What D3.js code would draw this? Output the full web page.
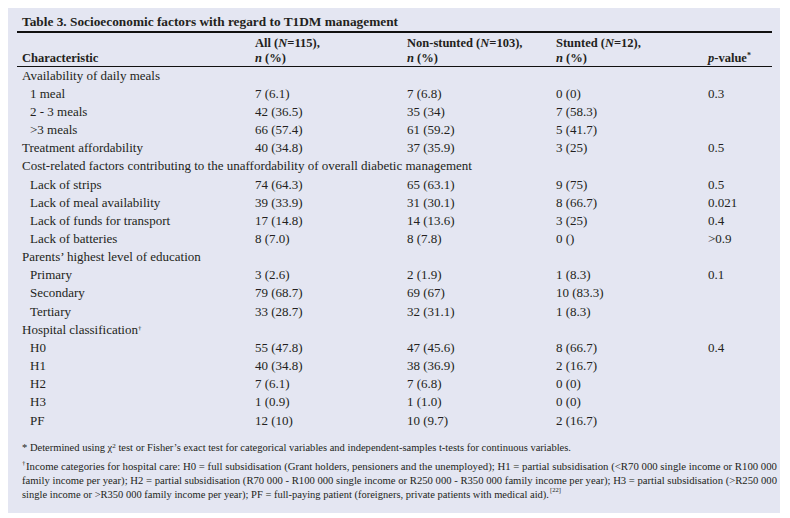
<!DOCTYPE html>
<html>
<head>
<meta charset="utf-8">
<script src="https://cdn.jsdelivr.net/npm/d3@7"></script>
<style>
  body { margin: 0; background: #fff; }
  text { font-family: "Liberation Serif", "DejaVu Serif", serif; fill: #231f20; }
</style>
</head>
<body>
<div id="table-chart"></div>
<script>
const dimensions = {
  width: 790,
  height: 518,
};

const title = "Table 3. Socioeconomic factors with regard to T1DM management";

// row labels; level 0 = group heading, level 1 = item
const rowLabels = [
  "Availability of daily meals", "1 meal", "2 - 3 meals", ">3 meals",
  "Treatment affordability",
  "Cost-related factors contributing to the unaffordability of overall diabetic management",
  "Lack of strips", "Lack of meal availability", "Lack of funds for transport", "Lack of batteries",
  "Parents\u2019 highest level of education", "Primary", "Secondary", "Tertiary",
  "Hospital classification", "H0", "H1", "H2", "H3", "PF",
];
const rowLevel = [0, 1, 1, 1, 0, 0, 1, 1, 1, 1, 0, 1, 1, 1, 0, 1, 1, 1, 1, 1];

const allValues = [
  "", "7 (6.1)", "42 (36.5)", "66 (57.4)", "40 (34.8)",
  "", "74 (64.3)", "39 (33.9)", "17 (14.8)", "8 (7.0)",
  "", "3 (2.6)", "79 (68.7)", "33 (28.7)",
  "", "55 (47.8)", "40 (34.8)", "7 (6.1)", "1 (0.9)", "12 (10)",
];
const nonStuntedValues = [
  "", "7 (6.8)", "35 (34)", "61 (59.2)", "37 (35.9)",
  "", "65 (63.1)", "31 (30.1)", "14 (13.6)", "8 (7.8)",
  "", "2 (1.9)", "69 (67)", "32 (31.1)",
  "", "47 (45.6)", "38 (36.9)", "7 (6.8)", "1 (1.0)", "10 (9.7)",
];
const stuntedValues = [
  "", "0 (0)", "7 (58.3)", "5 (41.7)", "3 (25)",
  "", "9 (75)", "8 (66.7)", "3 (25)", "0 ()",
  "", "1 (8.3)", "10 (83.3)", "1 (8.3)",
  "", "8 (66.7)", "2 (16.7)", "0 (0)", "0 (0)", "2 (16.7)",
];
const pValues = [
  "", "0.3", "", "", "0.5",
  "", "0.5", "0.021", "0.4", ">0.9",
  "", "0.1", "", "",
  "", "0.4", "", "", "", "",
];

const columns = ["label", "all", "non", "stunted", "p"];

const svg = d3
  .select("#table-chart")
  .append("svg")
  .attr("width", dimensions.width)
  .attr("height", dimensions.height);

// panel background
svg
  .append("rect")
  .attr("x", 8)
  .attr("y", 8)
  .attr("width", 772)
  .attr("height", 505)
  .attr("fill", "#e4e6f2");

var x = d3.scaleOrdinal().domain(columns).range([22, 255, 407, 556, 708]);

var y = d3
  .scalePoint()
  .domain(d3.range(rowLabels.length))
  .range([75, 420]);

// title
svg
  .append("text")
  .attr("x", 22)
  .attr("y", 21)
  .attr("dy", "0.35em")
  .attr("font-size", "13.5px")
  .attr("font-weight", "bold")
  .attr("textLength", 376)
  .attr("lengthAdjust", "spacingAndGlyphs")
  .text(title);

// rules
svg.append("line")
  .attr("x1", 17).attr("x2", 772)
  .attr("y1", 32).attr("y2", 32)
  .attr("stroke", "#111").attr("stroke-width", 2);

svg.append("line")
  .attr("x1", 17).attr("x2", 772)
  .attr("y1", 66.5).attr("y2", 66.5)
  .attr("stroke", "#111").attr("stroke-width", 1);

// header, two lines
const header = svg.append("g").attr("font-size", "12.5px").attr("font-weight", "bold");

function headerCell(col, lineY, parts) {
  const t = header
    .append("text")
    .attr("x", x(col))
    .attr("y", lineY)
    .attr("dy", "0.35em");
  parts.forEach((p) => {
    const s = t.append("tspan").text(p.t);
    if (p.i) s.attr("font-style", "italic");
    if (p.sup) s.attr("font-size", "8px").attr("dy", "-4");
  });
}

headerCell("label", 58, [{ t: "Characteristic" }]);
headerCell("all", 43, [{ t: "All (" }, { t: "N", i: true }, { t: "=115)," }]);
headerCell("all", 58, [{ t: "n", i: true }, { t: " (%)" }]);
headerCell("non", 43, [{ t: "Non-stunted (" }, { t: "N", i: true }, { t: "=103)," }]);
headerCell("non", 58, [{ t: "n", i: true }, { t: " (%)" }]);
headerCell("stunted", 43, [{ t: "Stunted (" }, { t: "N", i: true }, { t: "=12)," }]);
headerCell("stunted", 58, [{ t: "n", i: true }, { t: " (%)" }]);
headerCell("p", 58, [{ t: "p", i: true }, { t: "-value" }, { t: "*", sup: true }]);

// body rows
const body = svg.append("g").attr("font-size", "13px");

const rows = body
  .selectAll("g.row")
  .data(d3.range(rowLabels.length))
  .enter()
  .append("g")
  .attr("class", "row")
  .attr("transform", (i) => `translate(0,${y(i)})`);

rows
  .append("text")
  .attr("x", (i) => x("label") + (rowLevel[i] ? 8 : 0))
  .attr("dy", "0.35em")
  .text((i) => rowLabels[i])
  .filter((i) => rowLabels[i] === "Hospital classification")
  .append("tspan")
  .attr("font-size", "7px")
  .attr("dy", "-4")
  .text("\u2020");

const valueSets = { all: allValues, non: nonStuntedValues, stunted: stuntedValues, p: pValues };

Object.keys(valueSets).forEach((col) => {
  rows
    .append("text")
    .attr("x", x(col))
    .attr("dy", "0.35em")
    .text((i) => valueSets[col][i]);
});

// footnotes
const notes = svg.append("g").attr("font-size", "10.5px");

const note1 = notes
  .append("text")
  .attr("x", 22)
  .attr("y", 447)
  .attr("dy", "0.35em")
  .attr("textLength", 549)
  .attr("lengthAdjust", "spacingAndGlyphs");
note1.append("tspan").text("* Determined using \u03c7");
note1.append("tspan").attr("font-size", "7px").attr("dy", "-3").text("2");
note1
  .append("tspan")
  .attr("dy", "3")
  .text(" test or Fisher\u2019s exact test for categorical variables and independent-samples t-tests for continuous variables.");

const noteLines = [
  "Income categories for hospital care: H0 = full subsidisation (Grant holders, pensioners and the unemployed); H1 = partial subsidisation (<R70 000 single income or R100 000",
  "family income per year); H2 = partial subsidisation (R70 000 - R100 000 single income or R250 000 - R350 000 family income per year); H3 = partial subsidisation (>R250 000",
  "single income or >R350 000 family income per year); PF = full-paying patient (foreigners, private patients with medical aid).",
];
const noteStarts = [26, 22, 22];
const noteWidths = [751, 755, 527];

notes
  .append("text")
  .attr("x", 22)
  .attr("y", 463)
  .attr("dy", "0.35em")
  .attr("font-size", "7px")
  .text("\u2020");

notes
  .selectAll("text.note2")
  .data(noteLines)
  .enter()
  .append("text")
  .attr("class", "note2")
  .attr("x", (d, i) => noteStarts[i])
  .attr("y", (d, i) => 466 + i * 14)
  .attr("dy", "0.35em")
  .attr("textLength", (d, i) => noteWidths[i])
  .attr("lengthAdjust", "spacingAndGlyphs")
  .text((d) => d);

notes
  .append("text")
  .attr("x", 22 + noteWidths[2] + 1)
  .attr("y", 466 + 2 * 14 - 4)
  .attr("dy", "0.35em")
  .attr("font-size", "6.5px")
  .text("[22]");
</script>
</body>
</html>
